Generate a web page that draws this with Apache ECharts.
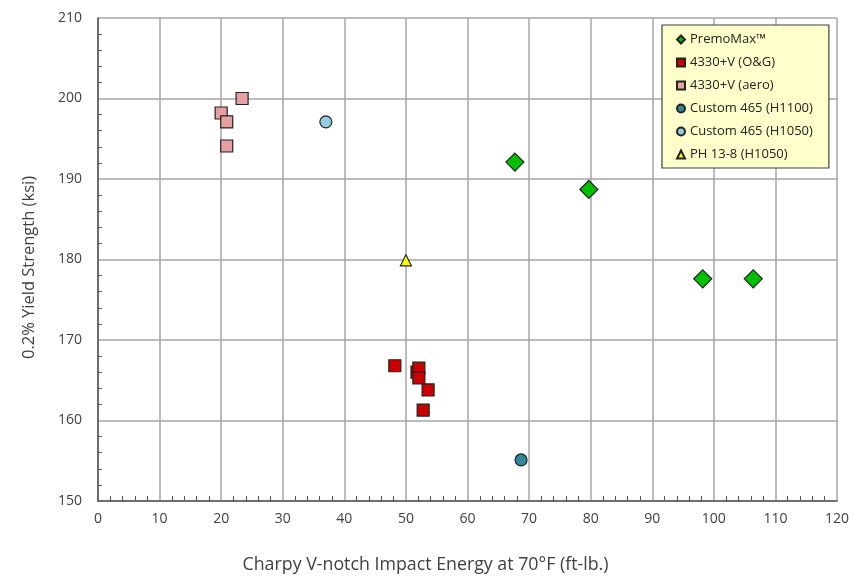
<!DOCTYPE html>
<html><head><meta charset="utf-8">
<script src="https://cdn.jsdelivr.net/npm/echarts@6/dist/echarts.min.js"></script>
<style>html,body{margin:0;padding:0;background:#fff}#c{width:854px;height:579px}</style>
</head><body><div id="c"></div>
<script>
const seriesNames = ["PremoMax™","4330+V (O&G)","4330+V (aero)","Custom 465 (H1100)","Custom 465 (H1050)","PH 13-8 (H1050)"];
const premoMax = [[67.7,192.1],[79.7,188.7],[98.2,177.6],[106.4,177.6]];
const og4330 = [[48.2,166.8],[51.8,166.0],[52.1,166.5],[52.1,165.3],[53.6,163.8],[52.8,161.3]];
const aero4330 = [[23.4,200.0],[20.0,198.2],[20.9,197.1],[20.9,194.1]];
const c465_1100 = [[68.7,155.1]];
const c465_1050 = [[37.0,197.1]];
const ph138 = [[50.0,179.9]];
const xTicks = {min:0,max:120,interval:10};
const yTicks = {min:150,max:210,interval:10};

const font = "'Open Sans', 'Noto Sans', sans-serif";
const chart = echarts.init(document.getElementById('c'));
function s(name,data,symbol,size,color){
  return {name:name,type:'scatter',data:data,symbol:symbol,symbolSize:size,
    itemStyle:{color:color,borderColor:'#222',borderWidth:1.2,opacity:1}};
}
chart.setOption({
  animation:false,
  grid:{left:98,right:17,top:18,bottom:77},
  legend:{
    orient:'vertical',left:662,top:25,
    backgroundColor:'#FFFFCC',borderColor:'#404040',borderWidth:1.2,
    padding:[8,16,7,14],itemGap:10,itemWidth:8,itemHeight:8,
    textStyle:{fontFamily:font,fontSize:13,color:'#222'},
    data:seriesNames.map(n=>({name:n}))
  },
  xAxis:{
    type:'value',min:xTicks.min,max:xTicks.max,interval:xTicks.interval,
    name:'Charpy V-notch Impact Energy at 70°F (ft-lb.)',nameLocation:'middle',nameGap:55,
    nameTextStyle:{fontFamily:font,fontSize:17.8,color:'#404040',padding:[0,84,0,0]},
    axisLine:{lineStyle:{color:'#555',width:1.5}},
    axisTick:{show:false},
    minorTick:{show:true,splitNumber:5,length:-5,lineStyle:{color:'#555'}},
    axisLabel:{fontFamily:font,fontSize:14,color:'#404040',margin:11},
    splitLine:{lineStyle:{color:'#a6a6a6',width:1.5}}
  },
  yAxis:{
    type:'value',min:yTicks.min,max:yTicks.max,interval:yTicks.interval,
    name:'0.2% Yield Strength (ksi)',nameLocation:'middle',nameGap:60,
    nameTextStyle:{fontFamily:font,fontSize:16.5,color:'#404040',padding:[0,16,0,0]},
    axisLine:{show:true,lineStyle:{color:'#555',width:1.5}},
    axisTick:{show:false},
    minorTick:{show:true,splitNumber:5,length:-4,lineStyle:{color:'#555'}},
    axisLabel:{fontFamily:font,fontSize:14,color:'#404040',margin:16},
    splitLine:{lineStyle:{color:'#a6a6a6',width:1.5}}
  },
  series:[
    s(seriesNames[0],premoMax,'diamond',[18,18],'#00C000'),
    s(seriesNames[1],og4330,'rect',12,'#CC0000'),
    s(seriesNames[2],aero4330,'rect',12,'#E6A0A0'),
    s(seriesNames[3],c465_1100,'circle',12,'#31859C'),
    s(seriesNames[4],c465_1050,'circle',12,'#93CDDD'),
    s(seriesNames[5],ph138,'triangle',11,'#FFFF00')
  ]
});
</script></body></html>
